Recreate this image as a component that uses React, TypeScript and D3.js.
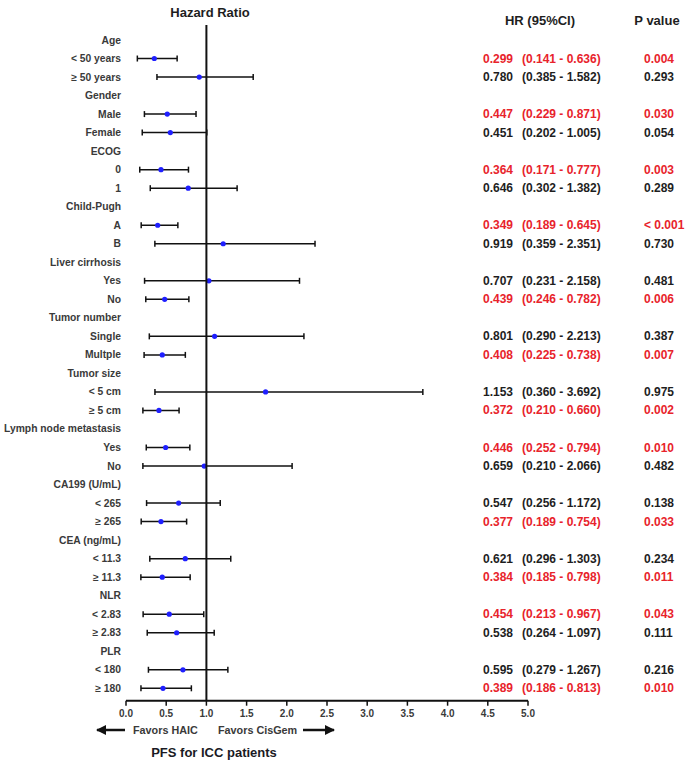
import * as d3 from 'd3';

// subgroup headers and their levels
const groups = [
  'Age',
  'Gender',
  'ECOG',
  'Child-Pugh',
  'Liver cirrhosis',
  'Tumor number',
  'Tumor size',
  'Lymph node metastasis',
  'CA199 (U/mL)',
  'CEA (ng/mL)',
  'NLR',
  'PLR',
];
const levels = [
  ['< 50 years', '≥ 50 years'],
  ['Male', 'Female'],
  ['0', '1'],
  ['A', 'B'],
  ['Yes', 'No'],
  ['Single', 'Multple'],
  ['< 5 cm', '≥ 5 cm'],
  ['Yes', 'No'],
  ['< 265', '≥ 265'],
  ['< 11.3', '≥ 11.3'],
  ['< 2.83', '≥ 2.83'],
  ['< 180', '≥ 180'],
];

// values as printed in the table
const hrLabels = [
  '0.299', '0.780', '0.447', '0.451', '0.364', '0.646', '0.349', '0.919',
  '0.707', '0.439', '0.801', '0.408', '1.153', '0.372', '0.446', '0.659',
  '0.547', '0.377', '0.621', '0.384', '0.454', '0.538', '0.595', '0.389',
];
const lower = [
  0.141, 0.385, 0.229, 0.202, 0.171, 0.302, 0.189, 0.359,
  0.231, 0.246, 0.29, 0.225, 0.36, 0.21, 0.252, 0.21,
  0.256, 0.189, 0.296, 0.185, 0.213, 0.264, 0.279, 0.186,
];
const upper = [
  0.636, 1.582, 0.871, 1.005, 0.777, 1.382, 0.645, 2.351,
  2.158, 0.782, 2.213, 0.738, 3.692, 0.66, 0.794, 2.066,
  1.172, 0.754, 1.303, 0.798, 0.967, 1.097, 1.267, 0.813,
];
// dot positions as drawn in the plot
const dots = [
  0.352, 0.911, 0.513, 0.551, 0.435, 0.774, 0.394, 1.209,
  1.031, 0.481, 1.102, 0.451, 1.736, 0.41, 0.493, 0.973,
  0.655, 0.435, 0.737, 0.451, 0.538, 0.63, 0.708, 0.46,
];
const pValues = [
  '0.004', '0.293', '0.030', '0.054', '0.003', '0.289', '< 0.001', '0.730',
  '0.481', '0.006', '0.387', '0.007', '0.975', '0.002', '0.010', '0.482',
  '0.138', '0.033', '0.234', '0.011', '0.043', '0.111', '0.216', '0.010',
];

const xTicks = [0, 0.5, 1, 1.5, 2, 2.5, 3, 3.5, 4, 4.5, 5];

const font = '"Liberation Sans", Arial, sans-serif';
const red = '#e8232b';
const dark = '#1e1e1e';
const grey = '#3a3a3a';

type Row =
  | { kind: 'group'; label: string }
  | { kind: 'item'; label: string; i: number };

export default function App() {
  const width = 685;
  const height = 771;

  const rows: Row[] = [];
  let k = 0;
  groups.forEach((g, gi) => {
    rows.push({ kind: 'group', label: g });
    levels[gi].forEach((l) => {
      rows.push({ kind: 'item', label: l, i: k });
      k += 1;
    });
  });

  const x = d3.scaleLinear().domain([0, 5]).range([126, 528]);
  const y = d3
    .scalePoint<number>()
    .domain(d3.range(rows.length))
    .range([40, 688.3]);

  const axisY = 700.7;
  const labelX = 121;
  const capH = 3;

  return (
    <svg
      width={width}
      height={height}
      style={{ position: 'absolute', left: 0, top: 0, background: '#fff' }}
      fontFamily={font}
    >
      <text x={210} y={12} textAnchor="middle" dominantBaseline="central" fontSize={13} fontWeight="bold" fill={dark}>
        Hazard Ratio
      </text>
      <text x={540} y={20} textAnchor="middle" dominantBaseline="central" fontSize={13} fontWeight="bold" fill={dark}>
        HR (95%CI)
      </text>
      <text x={657} y={20} textAnchor="middle" dominantBaseline="central" fontSize={13} fontWeight="bold" fill={dark}>
        P value
      </text>

      {rows.map((r, ri) => {
        const cy = y(ri)!;
        if (r.kind === 'group') {
          return (
            <text key={ri} x={labelX} y={cy} textAnchor="end" dominantBaseline="central" fontSize={10.3} fontWeight="bold" fill={grey}>
              {r.label}
            </text>
          );
        }
        const i = r.i;
        const sig = pValues[i].startsWith('<') || parseFloat(pValues[i]) < 0.05;
        const color = sig ? red : dark;
        return (
          <g key={ri}>
            <text x={labelX} y={cy} textAnchor="end" dominantBaseline="central" fontSize={10.3} fontWeight="bold" fill={grey}>
              {r.label}
            </text>
            <line x1={x(lower[i])} x2={x(upper[i])} y1={cy} y2={cy} stroke="#111" strokeWidth={1.5} />
            <line x1={x(lower[i])} x2={x(lower[i])} y1={cy - capH} y2={cy + capH} stroke="#111" strokeWidth={1.5} />
            <line x1={x(upper[i])} x2={x(upper[i])} y1={cy - capH} y2={cy + capH} stroke="#111" strokeWidth={1.5} />
            <circle cx={x(dots[i])} cy={cy} r={2.6} fill="#1f1fff" />
            <text x={483} y={cy} dominantBaseline="central" fontSize={12} fontWeight="bold" fill={color}>
              {hrLabels[i]}
            </text>
            <text x={522} y={cy} dominantBaseline="central" fontSize={12} fontWeight="bold" fill={color}>
              {`(${lower[i].toFixed(3)} - ${upper[i].toFixed(3)})`}
            </text>
            <text x={644} y={cy} dominantBaseline="central" fontSize={12} fontWeight="bold" fill={color}>
              {pValues[i]}
            </text>
          </g>
        );
      })}

      {/* reference line at HR = 1 */}
      <line x1={x(1)} x2={x(1)} y1={25} y2={axisY} stroke="#111" strokeWidth={2} />

      {/* x axis */}
      <line x1={x(0)} x2={x(5)} y1={axisY} y2={axisY} stroke="#111" strokeWidth={2} />
      {xTicks.map((t) => (
        <g key={t}>
          <line x1={x(t)} x2={x(t)} y1={axisY} y2={axisY + 5} stroke="#111" strokeWidth={1.5} />
          <text x={x(t)} y={713.5} textAnchor="middle" dominantBaseline="central" fontSize={10} fontWeight="bold" fill={grey}>
            {d3.format('.1f')(t)}
          </text>
        </g>
      ))}

      <defs>
        <marker id="arrow" viewBox="0 0 10 10" refX={9} refY={5} markerWidth={4} markerHeight={4} orient="auto-start-reverse">
          <path d="M0,0 L10,5 L0,10 z" fill="#111" />
        </marker>
      </defs>
      <line x1={125} x2={97} y1={730} y2={730} stroke="#111" strokeWidth={2.5} markerEnd="url(#arrow)" />
      <text x={133} y={730} dominantBaseline="central" fontSize={10.8} fontWeight="bold" fill={grey}>
        Favors HAIC
      </text>
      <text x={218} y={730} dominantBaseline="central" fontSize={10.8} fontWeight="bold" fill={grey}>
        Favors CisGem
      </text>
      <line x1={303} x2={334} y1={730} y2={730} stroke="#111" strokeWidth={2.5} markerEnd="url(#arrow)" />

      <text x={214} y={752} textAnchor="middle" dominantBaseline="central" fontSize={13} fontWeight="bold" fill="#1a1a24">
        PFS for ICC patients
      </text>
    </svg>
  );
}
